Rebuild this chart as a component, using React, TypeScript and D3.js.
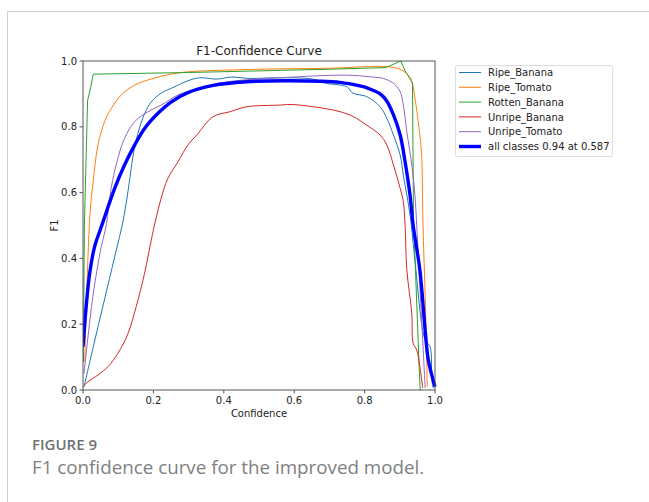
import * as d3 from "d3";

type Pt = [number, number];

const classNames = [
  "Ripe_Banana",
  "Ripe_Tomato",
  "Rotten_Banana",
  "Unripe_Banana",
  "Unripe_Tomato",
  "all classes 0.94 at 0.587",
];
const colors = ["#1f77b4", "#ff7f0e", "#2ca02c", "#d62728", "#9467bd", "#0000ff"];

// [confidence, F1]
const ripeBanana: Pt[] = [
  [0.003, 0.01], [0.03, 0.135], [0.06, 0.27], [0.09, 0.405], [0.115, 0.52], [0.13, 0.62], [0.142, 0.71],
  [0.156, 0.78], [0.175, 0.84], [0.194, 0.876], [0.222, 0.902], [0.261, 0.922],
  [0.298, 0.94], [0.332, 0.949], [0.38, 0.945], [0.42, 0.951], [0.474, 0.947],
  [0.55, 0.949], [0.653, 0.945], [0.692, 0.932], [0.749, 0.922], [0.767, 0.902],
  [0.806, 0.892], [0.844, 0.861], [0.863, 0.826], [0.882, 0.775], [0.901, 0.714],
  [0.91, 0.653], [0.92, 0.593], [0.931, 0.517], [0.943, 0.395], [0.972, 0.152],
  [0.986, 0.132], [0.991, 0.03], [0.995, 0.006],
];
const ripeTomato: Pt[] = [
  [0.005, 0.085], [0.019, 0.52], [0.0285, 0.63], [0.0426, 0.745], [0.0616, 0.816],
  [0.0804, 0.856], [0.109, 0.897], [0.147, 0.927], [0.193, 0.945], [0.25, 0.96],
  [0.298, 0.967], [0.5, 0.975], [0.7, 0.978], [0.862, 0.983], [0.9, 0.975],
  [0.919, 0.962], [0.933, 0.942], [0.943, 0.887], [0.957, 0.775], [0.962, 0.714],
  [0.966, 0.5], [0.974, 0.213], [0.978, 0.01],
];
const rottenBanana: Pt[] = [
  [0.001, 0.085], [0.004, 0.5], [0.013, 0.88], [0.022, 0.92], [0.029, 0.96],
  [0.3, 0.965], [0.5, 0.97], [0.7, 0.975], [0.86, 0.98], [0.903, 1.0],
  [0.915, 0.97], [0.936, 0.933], [0.939, 0.52], [0.955, 0.07], [0.958, 0.0],
];
const unripeBanana: Pt[] = [
  [0.0, 0.01], [0.014, 0.025], [0.043, 0.046], [0.071, 0.071], [0.099, 0.111],
  [0.128, 0.172], [0.151, 0.253], [0.175, 0.355], [0.194, 0.456], [0.207, 0.52],
  [0.222, 0.583], [0.241, 0.643], [0.27, 0.694], [0.298, 0.745], [0.323, 0.775],
  [0.37, 0.831], [0.418, 0.846], [0.465, 0.861], [0.56, 0.866], [0.588, 0.868],
  [0.654, 0.861], [0.73, 0.846], [0.768, 0.831], [0.806, 0.805], [0.844, 0.775],
  [0.863, 0.745], [0.882, 0.684], [0.901, 0.613], [0.91, 0.572], [0.915, 0.5],
  [0.92, 0.365], [0.934, 0.233], [0.938, 0.142], [0.948, 0.122], [0.957, 0.071],
  [0.965, 0.006],
];
const unripeTomato: Pt[] = [
  [0.003, 0.05], [0.028, 0.284], [0.052, 0.436], [0.066, 0.5], [0.08, 0.613],
  [0.099, 0.704], [0.118, 0.765], [0.147, 0.816], [0.185, 0.846], [0.222, 0.866],
  [0.27, 0.897], [0.298, 0.907], [0.4, 0.935], [0.56, 0.949], [0.749, 0.957],
  [0.815, 0.952], [0.853, 0.947], [0.882, 0.932], [0.901, 0.907], [0.91, 0.866],
  [0.92, 0.785], [0.934, 0.684], [0.943, 0.593], [0.948, 0.5], [0.957, 0.314],
  [0.967, 0.112], [0.972, 0.006],
];
const allClasses: Pt[] = [
  [0.0, 0.132], [0.009, 0.253], [0.019, 0.355], [0.033, 0.436], [0.052, 0.496],
  [0.09, 0.613], [0.118, 0.684], [0.147, 0.745], [0.175, 0.795], [0.213, 0.841],
  [0.251, 0.876], [0.298, 0.904], [0.37, 0.926], [0.465, 0.937], [0.587, 0.94],
  [0.73, 0.935], [0.796, 0.922], [0.815, 0.915], [0.844, 0.9], [0.862, 0.88],
  [0.882, 0.836], [0.901, 0.775], [0.915, 0.694], [0.929, 0.593], [0.938, 0.5],
  [0.957, 0.365], [0.972, 0.182], [0.981, 0.091], [1.0, 0.01],
];
const series = [ripeBanana, ripeTomato, rottenBanana, unripeBanana, unripeTomato, allClasses];
const ticks = [0, 0.2, 0.4, 0.6, 0.8, 1.0];

const W = 649;
const H = 502;
const left = 83, right = 435, top = 61, bottom = 390;

export default function App() {
  const x = d3.scaleLinear().domain([0, 1]).range([left, right]);
  const y = d3.scaleLinear().domain([0, 1]).range([bottom, top]);
  const smooth = d3
    .line<Pt>()
    .x((d) => x(d[0]))
    .y((d) => y(d[1]))
    .curve(d3.curveCatmullRom.alpha(0.5));
  const straight = d3
    .line<Pt>()
    .x((d) => x(d[0]))
    .y((d) => y(d[1]));

  const font = "DejaVu Sans, sans-serif";

  return (
    <svg
      width={W}
      height={H}
      style={{ position: "absolute", left: 0, top: 0, background: "#fff" }}
    >
      {/* page frame */}
      <line x1={7.5} y1={11.5} x2={W} y2={11.5} stroke="#d0d0d0" />
      <line x1={7.5} y1={11.5} x2={7.5} y2={H} stroke="#d0d0d0" />

      <defs>
        <clipPath id="plot-clip">
          <rect x={left} y={top - 2} width={right - left + 2} height={bottom - top + 2} />
        </clipPath>
      </defs>

      <g clipPath="url(#plot-clip)">
        {series.map((s, i) => (
          <path
            key={classNames[i]}
            d={(i === 2 ? straight(s) : smooth(s)) || ""}
            fill="none"
            stroke={colors[i]}
            strokeWidth={i === 5 ? 3.4 : 1}
            strokeLinejoin="round"
          />
        ))}
      </g>

      <rect
        x={left}
        y={top}
        width={right - left}
        height={bottom - top}
        fill="none"
        stroke="#555"
        strokeWidth={1}
      />

      {ticks.map((t) => (
        <g key={"x" + t} fontFamily={font} fontSize={10} fill="#222">
          <line x1={x(t)} x2={x(t)} y1={bottom} y2={bottom + 3.5} stroke="#555" />
          <text x={x(t)} y={bottom + 14} textAnchor="middle">
            {t.toFixed(1)}
          </text>
        </g>
      ))}
      {ticks.map((t) => (
        <g key={"y" + t} fontFamily={font} fontSize={10} fill="#222">
          <line x1={left - 3.5} x2={left} y1={y(t)} y2={y(t)} stroke="#555" />
          <text x={left - 6} y={y(t) + 3.6} textAnchor="end">
            {t.toFixed(1)}
          </text>
        </g>
      ))}

      <text x={(left + right) / 2} y={top - 6} textAnchor="middle" fontFamily={font} fontSize={12} fill="#222">
        F1-Confidence Curve
      </text>
      <text x={(left + right) / 2} y={417} textAnchor="middle" fontFamily={font} fontSize={10} fill="#222">
        Confidence
      </text>
      <text
        transform={`translate(58, ${(top + bottom) / 2}) rotate(-90)`}
        textAnchor="middle"
        fontFamily={font}
        fontSize={10}
        fill="#222"
      >
        F1
      </text>

      {/* legend */}
      <rect x={455.5} y={65.5} width={157} height={91} rx={2} fill="#fff" stroke="#ddd" />
      {classNames.map((n, i) => (
        <g key={n} transform={`translate(0, ${72.5 + i * 14.8})`}>
          <line x1={459} x2={481} y1={0} y2={0} stroke={colors[i]} strokeWidth={i === 5 ? 3.4 : 1} />
          <text x={488} y={3.6} fontFamily={font} fontSize={10} fill="#222">
            {n}
          </text>
        </g>
      ))}

      {/* caption */}
      <text x={32} y={450} fontFamily="Open Sans, sans-serif" fontSize={15} fontWeight={600} fill="#707070">
        FIGURE 9
      </text>
      <text x={32} y={474} fontFamily="Open Sans, sans-serif" fontSize={18.8} fill="#808080">
        F1 confidence curve for the improved model.
      </text>
    </svg>
  );
}
